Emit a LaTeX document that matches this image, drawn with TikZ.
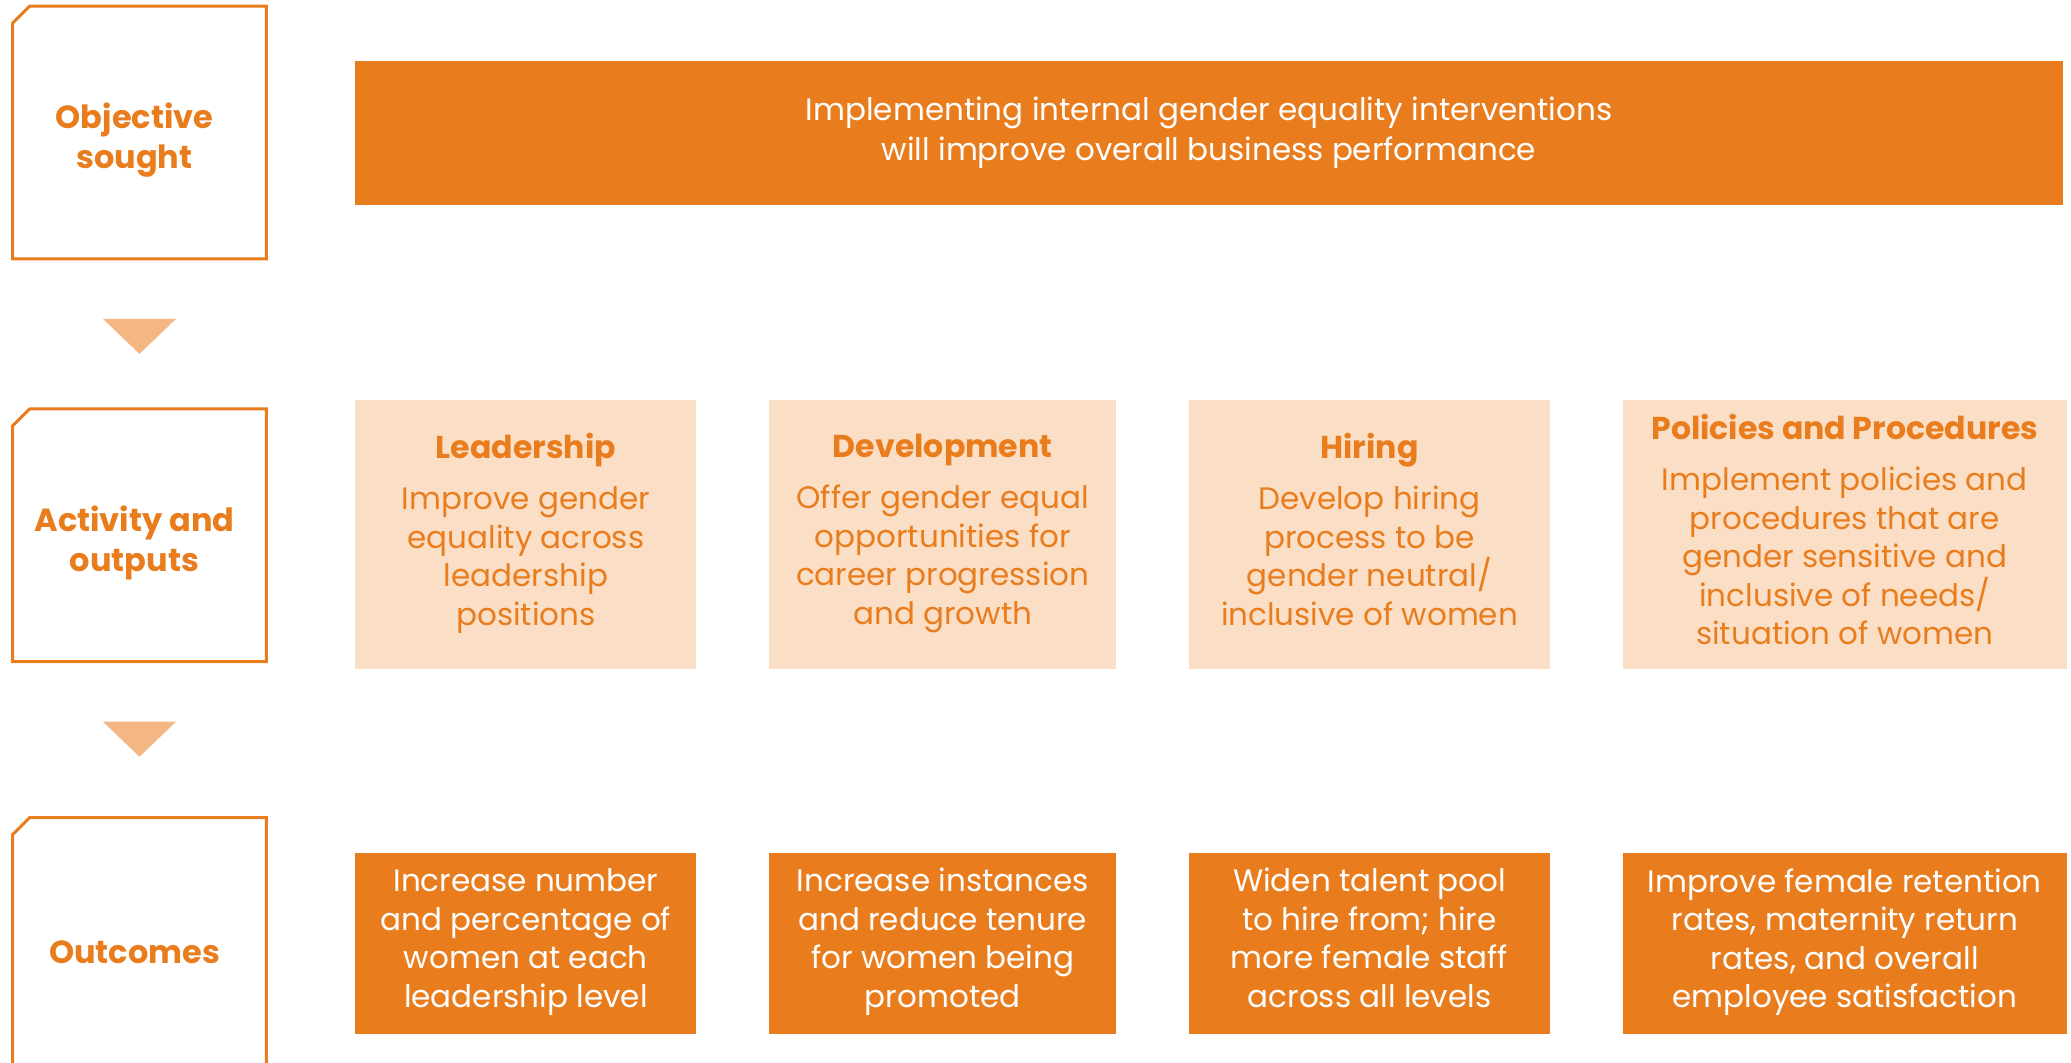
\documentclass[tikz,border=0pt]{standalone}
\usepackage{fontspec}
\setmainfont{Poppins}
\usetikzlibrary{positioning}
\definecolor{gsorange}{HTML}{E97D1E}
\definecolor{gspeach}{HTML}{FADFC6}
\definecolor{gsarrow}{HTML}{F4B683}
\newcommand{\acthead}[1]{{\bfseries\fontsize{15.8}{20}\selectfont #1}\\[6.5pt]}

\begin{document}
\begin{tikzpicture}[x=0.5pt,y=-0.5pt,
    stage/.style={minimum width=126.5pt,minimum height=126pt,inner sep=0pt},
    stagetext/.style={align=center,text=gsorange,font=\bfseries\fontsize{16}{20}\selectfont,
        xshift=-2.5pt,yshift=-4pt},
    stageline/.style={draw=gsorange,line width=1.5pt},
    goal/.style={fill=gsorange,text=white,minimum width=854pt,minimum height=72pt,inner sep=0pt,
        align=center,font=\fontsize{15.5}{20}\selectfont},
    activity/.style={fill=gspeach,text=gsorange,minimum height=134.5pt,inner sep=0pt,
        align=center,font=\fontsize{15.5}{19.25}\selectfont,execute at end node={\strut}},
    outcome/.style={fill=gsorange,text=white,minimum height=90.5pt,inner sep=0pt,
        align=center,font=\fontsize{15.5}{19.25}\selectfont,execute at end node={\strut}},
    down/.style={fill=gsarrow}]
    \useasboundingbox (0,0) rectangle (2071,1063);
    \clip (0,0) rectangle (2071,1063);
    \node[stage,label={[stagetext]center:{Objective\\sought}}] (s1) at (139.5,132.5) {};
    \node[stage,below=75pt of s1,label={[stagetext]center:{Activity and\\outputs}}] (s2) {};
    \node[stage,below=78pt of s2,label={[stagetext]center:Outcomes}] (s3) {};
    \foreach \s in {s1,s2,s3}
        \draw[stageline] ([yshift=-8.5pt]\s.north west) -- ([xshift=8.5pt]\s.north west)
            -- (\s.north east) -- (\s.south east) -- (\s.south west) -- cycle;
    \coordinate[below=30pt of s1] (t1);
    \coordinate[below=30pt of s2] (t2);
    \foreach \t in {t1,t2}
        \fill[down] (\t) ++(-36.5,0) -- ++(73,0) -- ++(-36.5,35) -- cycle;
    \node[goal] (g) at (1209,133) {Implementing internal gender equality interventions\\
        will improve overall business performance};
    \node[activity,minimum width=170.5pt,anchor=north west] (a1) at (355,400)
        {\acthead{Leadership}Improve gender\\equality across\\leadership\\positions};
    \node[activity,minimum width=173.5pt,right=36pt of a1] (a2)
        {\acthead{Development}Offer gender equal\\opportunities for\\career progression\\and growth};
    \node[activity,minimum width=180.5pt,right=36pt of a2] (a3)
        {\acthead{Hiring}Develop hiring\\process to be\\gender neutral/\\inclusive of women};
    \node[activity,minimum width=222pt,right=36pt of a3] (a4)
        {\acthead{Policies and Procedures}Implement policies and\\procedures that are\\gender sensitive and\\inclusive of needs/\\situation of women};
    \node[outcome,minimum width=170.5pt,below=91.5pt of a1] (o1)
        {Increase number\\and percentage of\\women at each\\leadership level};
    \node[outcome,minimum width=173.5pt,below=91.5pt of a2] (o2)
        {Increase instances\\and reduce tenure\\for women being\\promoted};
    \node[outcome,minimum width=180.5pt,below=91.5pt of a3] (o3)
        {Widen talent pool\\to hire from; hire\\more female staff\\across all levels};
    \node[outcome,minimum width=222pt,below=91.5pt of a4] (o4)
        {Improve female retention\\rates, maternity return\\rates, and overall\\employee satisfaction};
\end{tikzpicture}
\end{document}
